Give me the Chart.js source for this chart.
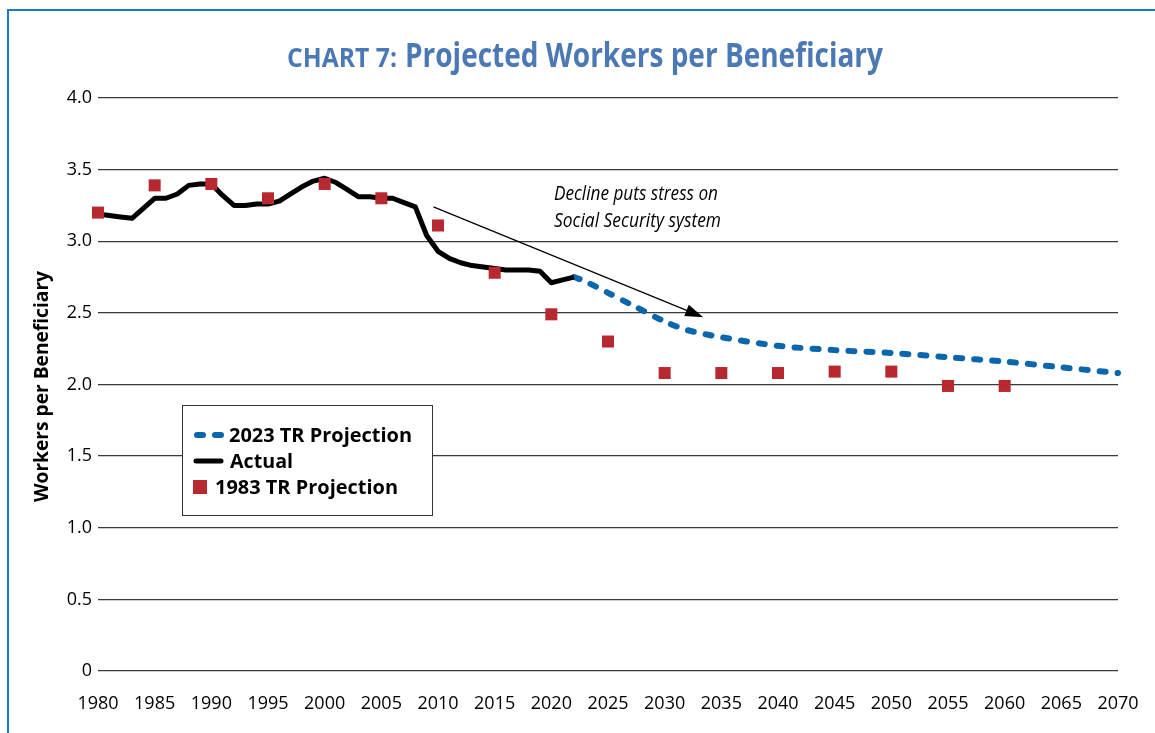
<!DOCTYPE html>
<html>
<head>
<meta charset="utf-8">
<script src="https://cdn.jsdelivr.net/npm/chart.js@4.4.0/dist/chart.umd.min.js"></script>
<style>
  html, body { margin: 0; padding: 0; background: #fff; }
  canvas { display: block; }
</style>
</head>
<body>
<canvas id="chart" width="1155" height="733"></canvas>
<script>
// --- Data ---

const actualYears = [1980, 1981, 1982, 1983, 1984, 1985, 1986, 1987, 1988, 1989,
  1990, 1991, 1992, 1993, 1994, 1995, 1996, 1997, 1998, 1999,
  2000, 2001, 2002, 2003, 2004, 2005, 2006, 2007, 2008, 2009,
  2010, 2011, 2012, 2013, 2014, 2015, 2016, 2017, 2018, 2019,
  2020, 2021, 2022];
const actualValues = [3.19, 3.18, 3.17, 3.16, 3.23, 3.30, 3.30, 3.33, 3.39, 3.40,
  3.40, 3.32, 3.25, 3.25, 3.26, 3.26, 3.28, 3.33, 3.38, 3.42,
  3.44, 3.41, 3.36, 3.31, 3.31, 3.30, 3.30, 3.27, 3.24, 3.04,
  2.93, 2.88, 2.85, 2.83, 2.82, 2.81, 2.80, 2.80, 2.80, 2.79,
  2.71, 2.73, 2.75];

const tr2023Years = [2022, 2023, 2025, 2027, 2030, 2032, 2035, 2040, 2045, 2050, 2055, 2060, 2065, 2070];
const tr2023Values = [2.75, 2.72, 2.64, 2.56, 2.44, 2.38, 2.33, 2.27, 2.24, 2.22, 2.19, 2.16, 2.12, 2.08];

const tr1983Years = [1980, 1985, 1990, 1995, 2000, 2005, 2010, 2015, 2020, 2025, 2030, 2035, 2040, 2045, 2050, 2055, 2060];
const tr1983Values = [3.20, 3.39, 3.40, 3.30, 3.40, 3.30, 3.11, 2.78, 2.49, 2.30, 2.08, 2.08, 2.08, 2.09, 2.09, 1.99, 1.99];

const legendLabels = ['2023 TR Projection', 'Actual', '1983 TR Projection'];
const noteLines = ['Decline puts stress on', 'Social Security system'];

const BLUE = '#0a67ad';
const RED = '#b7282f';
const TITLE_BLUE = '#4a79b6';
const FONT = "'Open Sans', 'Noto Sans', sans-serif";

function toPoints(xs, ys) {
  return xs.map((x, i) => ({ x: x, y: ys[i] }));
}

// draw text squeezed horizontally to a target width (reference uses a condensed face)
function fitText(ctx, text, x, y, width) {
  const w = ctx.measureText(text).width;
  const s = Math.min(1, width / w);
  ctx.save();
  ctx.translate(x, y);
  ctx.scale(s, 1);
  ctx.fillText(text, 0, 0);
  ctx.restore();
  return w * s;
}

// --- Decorations: title, axis title, note + arrow, legend, frame ---

const decorPlugin = {
  id: 'decor',
  afterDraw(chart) {
    const ctx = chart.ctx;
    const xs = chart.scales.x;
    const ys = chart.scales.y;
    ctx.save();

    // frame
    ctx.strokeStyle = '#1b79c2';
    ctx.lineWidth = 2;
    ctx.beginPath();
    ctx.moveTo(8, 733);
    ctx.lineTo(8, 10);
    ctx.lineTo(1155, 10);
    ctx.stroke();

    // title
    ctx.fillStyle = TITLE_BLUE;
    ctx.textBaseline = 'alphabetic';
    ctx.textAlign = 'left';
    ctx.font = 'bold 26px ' + FONT;
    fitText(ctx, 'CHART 7:', 287, 67, 110);
    ctx.font = 'bold 34px ' + FONT;
    fitText(ctx, 'Projected Workers per Beneficiary', 405, 67, 478);

    // y axis title
    ctx.fillStyle = '#000';
    ctx.font = 'bold 20px ' + FONT;
    ctx.save();
    ctx.translate(48, 502);
    ctx.rotate(-Math.PI / 2);
    fitText(ctx, 'Workers per Beneficiary', 0, 0, 231);
    ctx.restore();

    // note
    ctx.font = 'italic 20px ' + FONT;
    fitText(ctx, noteLines[0], 554, 200, 164);
    fitText(ctx, noteLines[1], 554, 227, 167);

    // arrow
    const ax0 = xs.getPixelForValue(2009.6), ay0 = ys.getPixelForValue(3.24);
    const ax1 = xs.getPixelForValue(2033.4), ay1 = ys.getPixelForValue(2.47);
    const ang = Math.atan2(ay1 - ay0, ax1 - ax0);
    ctx.strokeStyle = '#000';
    ctx.lineWidth = 1.2;
    ctx.beginPath();
    ctx.moveTo(ax0, ay0);
    ctx.lineTo(ax1 - 10 * Math.cos(ang), ay1 - 10 * Math.sin(ang));
    ctx.stroke();
    ctx.fillStyle = '#000';
    ctx.beginPath();
    ctx.moveTo(ax1, ay1);
    ctx.lineTo(ax1 - 18 * Math.cos(ang) + 6 * Math.sin(ang), ay1 - 18 * Math.sin(ang) - 6 * Math.cos(ang));
    ctx.lineTo(ax1 - 18 * Math.cos(ang) - 6 * Math.sin(ang), ay1 - 18 * Math.sin(ang) + 6 * Math.cos(ang));
    ctx.closePath();
    ctx.fill();

    // legend box
    ctx.fillStyle = '#fff';
    ctx.fillRect(182, 405, 250, 110);
    ctx.strokeStyle = '#333';
    ctx.lineWidth = 1;
    ctx.strokeRect(182.5, 405.5, 250, 110);

    const rows = [435, 461, 487];
    // blue dashes
    ctx.strokeStyle = BLUE;
    ctx.lineWidth = 6;
    ctx.lineCap = 'round';
    ctx.setLineDash([6, 12]);
    ctx.beginPath();
    ctx.moveTo(197, rows[0]);
    ctx.lineTo(222, rows[0]);
    ctx.stroke();
    ctx.setLineDash([]);
    // black line
    ctx.strokeStyle = '#000';
    ctx.lineWidth = 5;
    ctx.beginPath();
    ctx.moveTo(196, rows[1]);
    ctx.lineTo(221, rows[1]);
    ctx.stroke();
    // red square
    ctx.fillStyle = RED;
    ctx.fillRect(193, rows[2] - 7, 14, 14);

    ctx.fillStyle = '#000';
    ctx.font = 'bold 20px ' + FONT;
    ctx.textBaseline = 'middle';
    fitText(ctx, legendLabels[0], 229, rows[0] + 1, 183);
    fitText(ctx, legendLabels[1], 230, rows[1] + 1, 63);
    fitText(ctx, legendLabels[2], 215, rows[2] + 1, 183);

    ctx.restore();
  }
};

new Chart(document.getElementById('chart'), {
  type: 'line',
  data: {
    datasets: [
      {
        label: legendLabels[2],
        type: 'scatter',
        data: toPoints(tr1983Years, tr1983Values),
        showLine: false,
        pointStyle: 'rect',
        pointRadius: 8.5,
        pointBackgroundColor: RED,
        pointBorderWidth: 0,
        clip: false
      },
      {
        label: legendLabels[1],
        data: toPoints(actualYears, actualValues),
        borderColor: '#000',
        borderWidth: 5,
        borderJoinStyle: 'round',
        pointRadius: 0,
        tension: 0,
        clip: false
      },
      {
        label: legendLabels[0],
        data: toPoints(tr2023Years, tr2023Values),
        borderColor: BLUE,
        borderWidth: 6,
        borderCapStyle: 'round',
        borderDash: [6, 12],
        pointRadius: 0,
        tension: 0.3,
        clip: false
      }
    ]
  },
  options: {
    responsive: false,
    animation: false,
    devicePixelRatio: 1,
    layout: { padding: { top: 98, right: 37, left: 0, bottom: 0 } },
    plugins: {
      legend: { display: false },
      title: { display: false },
      tooltip: { enabled: false }
    },
    scales: {
      x: {
        type: 'linear',
        min: 1980,
        max: 2070,
        afterFit(scale) { scale.height = 62; },
        grid: { display: false },
        border: { display: false },
        ticks: {
          stepSize: 5,
          padding: 14,
          color: '#000',
          maxRotation: 0,
          autoSkip: false,
          font: { family: FONT, size: 18 },
          callback: v => String(v)
        }
      },
      y: {
        min: 0,
        max: 4,
        afterFit(scale) { scale.width = 98; },
        border: { display: false },
        grid: { color: '#3a3a3a', lineWidth: 1.3, drawTicks: false },
        ticks: {
          stepSize: 0.5,
          padding: 6,
          color: '#000',
          font: { family: FONT, size: 18 },
          callback: v => (v === 0 ? '0' : v.toFixed(1))
        }
      }
    }
  },
  plugins: [decorPlugin]
});
</script>
</body>
</html>
